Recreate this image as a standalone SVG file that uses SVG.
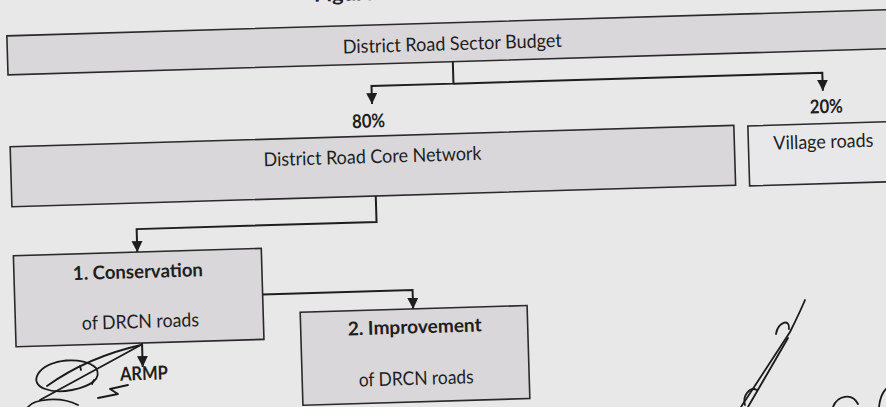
<svg xmlns="http://www.w3.org/2000/svg" width="886" height="407" viewBox="0 0 886 407">
  <defs>
    <style>
      .box { fill: #d9d7da; stroke: #2a2a2a; stroke-width: 1.6; }
      .boxlight { fill: #e8e7e9; stroke: #2a2a2a; stroke-width: 1.6; }
      .t { font-family: Lato, "Open Sans", "Liberation Sans", sans-serif; font-size: 19px; fill: #1e1e1e; text-anchor: middle; }
      .b { font-weight: bold; }
      .conn { fill: none; stroke: #1e1e1e; stroke-width: 2; }
      .sig { fill: none; stroke: #1a1a1a; stroke-width: 1.8; stroke-linecap: round; stroke-linejoin: round; }
    </style>
    <marker id="ah" viewBox="0 0 10 10" refX="10" refY="5" markerWidth="11" markerHeight="11" markerUnits="userSpaceOnUse" orient="auto">
      <path d="M0,0 L10,5 L0,10 z" fill="#1e1e1e"/>
    </marker>
  </defs>

  <rect x="0" y="0" width="886" height="407" fill="#e8e8e9"/>

  <g transform="rotate(-1.7 443 203)">
    <text class="t b" x="360" y="-2" textLength="80" lengthAdjust="spacingAndGlyphs">Figure 3</text>

    <g id="budget">
      <rect class="box" x="12" y="23" width="900" height="39"/>
      <text class="t" x="457" y="50.5" textLength="219" lengthAdjust="spacingAndGlyphs">District Road Sector Budget</text>
    </g>

    <g id="drcn">
      <text class="t b" x="371" y="125.5" textLength="33" lengthAdjust="spacingAndGlyphs">80%</text>
      <rect class="box" x="12" y="134" width="724" height="60"/>
      <text class="t" x="374" y="161" textLength="218" lengthAdjust="spacingAndGlyphs">District Road Core Network</text>
    </g>

    <g id="village">
      <text class="t b" x="829" y="124.5" textLength="33" lengthAdjust="spacingAndGlyphs">20%</text>
      <rect class="boxlight" x="750" y="135" width="160" height="60"/>
      <text class="t" x="825" y="159.5" textLength="100" lengthAdjust="spacingAndGlyphs">Village roads</text>
    </g>

    <g id="conservation">
      <rect class="box" x="12" y="243" width="248" height="91"/>
      <text class="t b" x="136" y="269" textLength="130" lengthAdjust="spacingAndGlyphs">1. Conservation</text>
      <text class="t" x="137" y="319" textLength="117" lengthAdjust="spacingAndGlyphs">of DRCN roads</text>
    </g>

    <g id="improvement">
      <rect class="box" x="297" y="308" width="227" height="93"/>
      <text class="t b" x="411" y="332.5" textLength="134" lengthAdjust="spacingAndGlyphs">2. Improvement</text>
      <text class="t" x="411" y="384" textLength="115" lengthAdjust="spacingAndGlyphs">of DRCN roads</text>
    </g>

    <g id="armp">
      <text class="t b" x="139" y="371" textLength="48" lengthAdjust="spacingAndGlyphs">ARMP</text>
    </g>

    <g id="connectors">
      <path class="conn" d="M457,62 V84 H375 V102" marker-end="url(#ah)"/>
      <path class="conn" d="M457,84 H826 V102" marker-end="url(#ah)"/>
      <path class="conn" d="M376,194 V220 H136 V243" marker-end="url(#ah)"/>
      <path class="conn" d="M260,289 H410 V308" marker-end="url(#ah)"/>
      <path class="conn" d="M138,334 V358" marker-end="url(#ah)"/>
    </g>
  </g>

  <g id="signatures">
    <path class="sig" d="M96,368 C84,356 48,358 38,374 C30,388 52,394 72,390 C92,386 102,378 96,368"/>
    <path class="sig" d="M47,386 C75,366 110,352 141,345"/>
    <path class="sig" d="M40,400 L139,346"/>
    <path class="sig" d="M128,385 L110,389 L118,394 L98,398"/>
    <path class="sig" d="M28,407 C34,399 60,396 78,405"/>
    <path class="sig" d="M80,366 l1,4 M94,380 l-2,4" stroke-width="1.4"/>
    <path class="sig" d="M741,407 L790,332 C796,320 800,312 805,300"/>
    <path class="sig" d="M748,407 L788,338" stroke-width="1.3"/>
    <path class="sig" d="M776,334 C778,322 790,318 789,329"/>
    <path class="sig" d="M745,405 C742,396 750,386 757,390"/>
    <path class="sig" d="M833,407 C837,396 852,392 858,404"/>
    <path class="sig" d="M879,407 C880,398 883,392 886,389"/>
  </g>
</svg>
